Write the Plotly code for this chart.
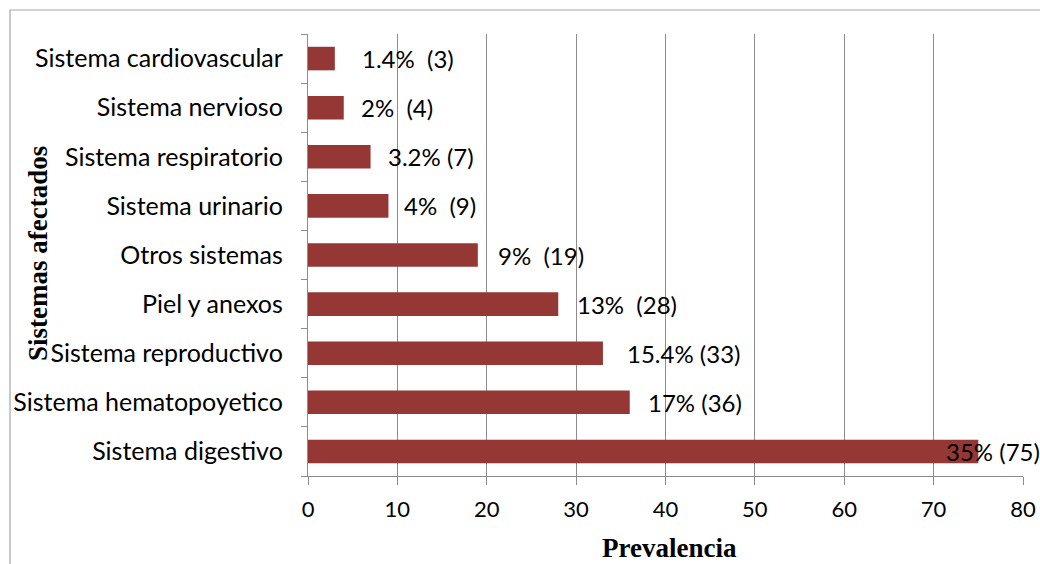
import plotly.graph_objects as go

categories = ["Sistema digestivo", "Sistema hematopoyetico", "Sistema reproductivo",
              "Piel y anexos", "Otros sistemas", "Sistema urinario",
              "Sistema respiratorio", "Sistema nervioso", "Sistema cardiovascular"]
counts = [75, 36, 33, 28, 19, 9, 7, 4, 3]
labels = ["35% (75)", "17% (36)", "15.4% (33)", "13%  (28)", "9%  (19)",
          "4%  (9)", "3.2% (7)", "2%  (4)", "1.4%  (3)"]
label_shift_px = [-34, 16, 22, 17, 18, 14, 15, 15, 25]
x_ticks = [0, 10, 20, 30, 40, 50, 60, 70, 80]

FONT = "Lato, Open Sans, sans-serif"
SERIF = "Liberation Serif, Times New Roman, serif"

W, H = 1040, 564
L, R, T, B = 308, 17, 34, 88
pw, ph = W - L - R, H - T - B

fig = go.Figure(go.Bar(
    x=counts, y=categories, orientation="h",
    marker=dict(color="#953735", line=dict(width=0)),
    width=0.48,
))

for c, v, t, s in zip(categories, counts, labels, label_shift_px):
    fig.add_annotation(x=v, y=c, text=t, showarrow=False, xanchor="left",
                       xshift=s, font=dict(family=FONT, size=24, color="#000000"))

fig.add_annotation(xref="paper", yref="paper", x=(38 - L) / pw, y=(H - B - 254) / ph,
                   text="<b>Sistemas afectados</b>", textangle=-90, showarrow=False,
                   xanchor="center", yanchor="middle",
                   font=dict(family=SERIF, size=27, color="#000000"))
fig.add_annotation(xref="paper", yref="paper", x=(669 - L) / pw, y=(H - B - 548) / ph,
                   text="<b>Prevalencia</b>", showarrow=False,
                   xanchor="center", yanchor="middle",
                   font=dict(family=SERIF, size=27, color="#000000"))

fig.add_shape(type="rect", xref="paper", yref="paper",
              x0=(10 - L) / pw, x1=1 + (R + 20) / pw,
              y0=-(B + 20) / ph, y1=1 + (T - 10) / ph,
              line=dict(color="#a6a6a6", width=1.2), layer="below")

fig.update_layout(
    width=W, height=H, margin=dict(l=L, r=R, t=T, b=B, autoexpand=False),
    paper_bgcolor="white", plot_bgcolor="white",
    showlegend=False,
    font=dict(family=FONT, size=24, color="#000000"),
    xaxis=dict(range=[0, 80], tickvals=x_ticks, showgrid=True, automargin=False,
               gridcolor="#8c8c8c", gridwidth=1.3,
               showline=True, linecolor="#8c8c8c", linewidth=1.3,
               ticks="outside", ticklen=8, tickcolor="#8c8c8c", tickwidth=1.3,
               zeroline=False, tickfont=dict(family=FONT, size=22),
               ticklabelstandoff=5),
    yaxis=dict(categoryorder="array", categoryarray=categories, automargin=False,
               showline=True, linecolor="#8c8c8c", linewidth=1.3,
               ticks="outside", ticklen=6, tickcolor="#8c8c8c", tickwidth=1.3,
               tickson="boundaries", showgrid=False, zeroline=False,
               tickfont=dict(family=FONT, size=25), ticklabelstandoff=19),
)

fig.write_html("out.html")
